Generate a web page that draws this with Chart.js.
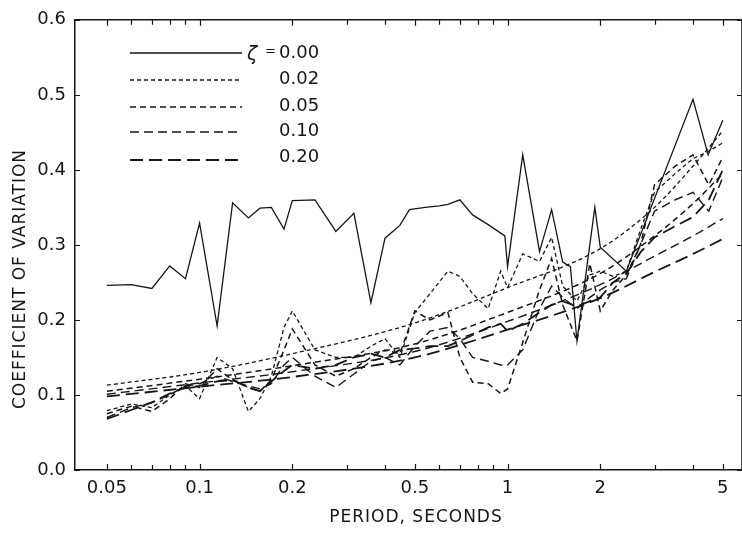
<!DOCTYPE html>
<html>
<head>
<meta charset="utf-8">
<script src="https://cdn.jsdelivr.net/npm/chart.js@4"></script>
<style>
  html, body { margin: 0; padding: 0; background: #fff; }
  #chart { display: block; }
</style>
</head>
<body>
<canvas id="chart" width="742" height="536"></canvas>
<script>
// periods (s) for the undamped curve
const solidPeriods = [0.05,0.06,0.07,0.08,0.09,0.10,0.114,0.128,0.144,0.157,0.171,0.188,0.20,0.237,0.277,0.317,0.36,0.40,0.447,0.48,0.54,0.60,0.64,0.70,0.77,0.865,0.98,1.0,1.12,1.27,1.39,1.51,1.6,1.68,1.92,2.0,2.43,4.0,4.48,5.0];
const cov000 = [0.246,0.247,0.242,0.272,0.255,0.329,0.192,0.356,0.336,0.349,0.350,0.321,0.359,0.360,0.318,0.342,0.223,0.309,0.326,0.347,0.350,0.352,0.354,0.360,0.340,0.327,0.312,0.271,0.420,0.291,0.347,0.277,0.271,0.172,0.350,0.297,0.265,0.494,0.420,0.466];

// periods for the damped curves
const periods = [0.05,0.06,0.07,0.08,0.09,0.10,0.114,0.128,0.144,0.157,0.171,0.188,0.20,0.237,0.277,0.317,0.36,0.40,0.447,0.50,0.56,0.64,0.70,0.77,0.865,0.95,1.0,1.12,1.27,1.39,1.51,1.68,1.85,2.0,2.2,2.43,2.7,3.0,3.5,4.0,4.5,5.0];
const cov002 = [0.079,0.088,0.083,0.100,0.112,0.095,0.150,0.135,0.078,0.095,0.125,0.190,0.212,0.160,0.150,0.150,0.165,0.175,0.150,0.210,0.235,0.265,0.258,0.235,0.215,0.265,0.243,0.288,0.278,0.310,0.245,0.225,0.260,0.265,0.258,0.265,0.320,0.370,0.395,0.415,0.425,0.436];
const cov005 = [0.075,0.085,0.078,0.095,0.115,0.110,0.135,0.120,0.110,0.105,0.120,0.160,0.188,0.140,0.125,0.135,0.150,0.160,0.155,0.212,0.200,0.210,0.150,0.117,0.115,0.102,0.108,0.170,0.240,0.282,0.220,0.172,0.275,0.212,0.240,0.260,0.300,0.380,0.405,0.420,0.380,0.417];
const cov010 = [0.070,0.083,0.090,0.100,0.112,0.115,0.125,0.118,0.112,0.108,0.115,0.140,0.150,0.125,0.110,0.128,0.145,0.150,0.140,0.165,0.185,0.190,0.175,0.150,0.145,0.140,0.140,0.160,0.215,0.245,0.230,0.215,0.230,0.240,0.250,0.255,0.300,0.345,0.360,0.370,0.345,0.390];
const cov020 = [0.068,0.080,0.090,0.102,0.110,0.112,0.118,0.120,0.110,0.105,0.118,0.132,0.140,0.135,0.140,0.150,0.155,0.150,0.160,0.162,0.165,0.165,0.172,0.180,0.190,0.195,0.185,0.195,0.210,0.220,0.225,0.218,0.225,0.230,0.250,0.262,0.290,0.310,0.325,0.337,0.360,0.400];

// smooth fitted curves
const fitPeriods = [0.05,0.1,0.2,0.5,1,2,3,4,5];
const fit002 = [0.113,0.130,0.155,0.196,0.243,0.295,0.350,0.405,0.452];
const fit005 = [0.105,0.121,0.139,0.168,0.210,0.262,0.312,0.355,0.395];
const fit010 = [0.101,0.116,0.131,0.158,0.198,0.247,0.285,0.312,0.335];
const fit020 = [0.098,0.111,0.124,0.150,0.187,0.229,0.264,0.288,0.308];

const zetaLabels = ['0.00','0.02','0.05','0.10','0.20'];
const xTickValues = [0.05,0.1,0.2,0.5,1,2,5];
const xTickLabels = ['0.05','0.1','0.2','0.5','1','2','5'];
const xTickMarks = [0.05,0.06,0.07,0.08,0.09,0.1,0.2,0.3,0.4,0.5,0.6,0.7,0.8,0.9,1,2,3,4,5];
const yTickLabels = ['0.0','0.1','0.2','0.3','0.4','0.5','0.6'];

const ink = '#161616';
const dashes = [[], [4,3], [6,4], [9,5], [13,6]];
const widths = [1.3, 1.3, 1.5, 1.4, 1.8];

function pts(xs, ys) {
  return xs.map((x, i) => ({ x: x, y: ys[i] }));
}
function ds(label, xs, ys, k, smooth) {
  return {
    label: label,
    data: pts(xs, ys),
    borderColor: ink,
    borderWidth: widths[k],
    borderDash: dashes[k],
    pointRadius: 0,
    fill: false,
    tension: 0,
    cubicInterpolationMode: smooth ? 'monotone' : 'default'
  };
}

const datasets = [
  ds(zetaLabels[0], solidPeriods, cov000, 0, false),
  ds(zetaLabels[1], periods, cov002, 1, false),
  ds(zetaLabels[2], periods, cov005, 2, false),
  ds(zetaLabels[3], periods, cov010, 3, false),
  ds(zetaLabels[4], periods, cov020, 4, false),
  ds('fit ' + zetaLabels[1], fitPeriods, fit002, 1, true),
  ds('fit ' + zetaLabels[2], fitPeriods, fit005, 2, true),
  ds('fit ' + zetaLabels[3], fitPeriods, fit010, 3, true),
  ds('fit ' + zetaLabels[4], fitPeriods, fit020, 4, true)
];

// frame, inward ticks, titles and the line-style key
const decor = {
  id: 'decor',
  afterDraw(chart) {
    const ctx = chart.ctx;
    const a = chart.chartArea;
    const xs = chart.scales.x, ys = chart.scales.y;
    ctx.save();
    ctx.strokeStyle = ink;
    ctx.lineWidth = 1.5;
    ctx.beginPath();
    ctx.moveTo(a.left, a.top); ctx.lineTo(a.right, a.top);
    ctx.moveTo(a.right, a.top); ctx.lineTo(a.right, a.bottom);
    ctx.stroke();

    ctx.lineWidth = 1.2;
    ctx.beginPath();
    xTickMarks.forEach(v => {
      const px = Math.round(xs.getPixelForValue(v)) + 0.5;
      const len = xTickValues.includes(v) ? 6 : 5;
      ctx.moveTo(px, a.bottom); ctx.lineTo(px, a.bottom - len);
      ctx.moveTo(px, a.top); ctx.lineTo(px, a.top + len);
    });
    yTickLabels.forEach(l => {
      const py = Math.round(ys.getPixelForValue(parseFloat(l))) + 0.5;
      ctx.moveTo(a.left, py); ctx.lineTo(a.left + 5, py);
      ctx.moveTo(a.right, py); ctx.lineTo(a.right - 5, py);
    });
    ctx.stroke();

    ctx.fillStyle = ink;
    ctx.font = '17px "DejaVu Sans"';
    ctx.letterSpacing = '1px';
    ctx.textAlign = 'center';
    ctx.textBaseline = 'middle';
    ctx.fillText('PERIOD, SECONDS', 416, 518);
    ctx.save();
    ctx.translate(21, 279);
    ctx.rotate(-Math.PI / 2);
    ctx.fillText('COEFFICIENT OF VARIATION', 0, 0);
    ctx.restore();
    ctx.letterSpacing = '0px';

    // key
    const keyY = [53, 80, 107, 132, 160];
    const textY = [53, 79, 106, 131, 157];
    for (let i = 0; i < zetaLabels.length; i++) {
      ctx.beginPath();
      ctx.setLineDash(dashes[i]);
      ctx.lineWidth = widths[i];
      ctx.moveTo(130, keyY[i]); ctx.lineTo(242, keyY[i]);
      ctx.stroke();
      ctx.setLineDash([]);
      ctx.textAlign = 'left';
      ctx.font = '18px "DejaVu Sans"';
      ctx.fillText(zetaLabels[i], 279, textY[i]);
    }
    ctx.font = 'italic 19px "DejaVu Sans"';
    ctx.fillText('\u03b6', 247, 55);
    ctx.font = '13px "DejaVu Sans"';
    ctx.fillText('=', 265, 52);
    ctx.restore();
  }
};

new Chart(document.getElementById('chart'), {
  type: 'line',
  data: { datasets: datasets },
  plugins: [decor],
  options: {
    responsive: false,
    animation: false,
    layout: { padding: { top: 16, right: 0, left: 0, bottom: 0 } },
    plugins: { legend: { display: false }, tooltip: { enabled: false } },
    scales: {
      x: {
        type: 'logarithmic',
        min: 0.0394,
        max: 5.77,
        grid: { display: false, drawTicks: false },
        border: { display: true, color: ink, width: 1.5 },
        afterBuildTicks: s => { s.ticks = xTickValues.map(v => ({ value: v })); },
        afterFit: s => { s.height = 66; },
        ticks: {
          autoSkip: false,
          maxRotation: 0,
          padding: 8,
          color: ink,
          font: { family: 'DejaVu Sans', size: 18 },
          callback: (v) => {
            const i = xTickValues.indexOf(v);
            return i >= 0 ? xTickLabels[i] : '';
          }
        }
      },
      y: {
        type: 'linear',
        min: 0,
        max: 0.6,
        grid: { display: false, drawTicks: false },
        border: { display: true, color: ink, width: 1.5 },
        afterFit: s => { s.width = 75; },
        ticks: {
          stepSize: 0.1,
          padding: 9,
          color: ink,
          font: { family: 'DejaVu Sans', size: 18 },
          callback: (v, i) => yTickLabels[Math.round(v * 10)]
        }
      }
    }
  }
});
</script>
</body>
</html>
